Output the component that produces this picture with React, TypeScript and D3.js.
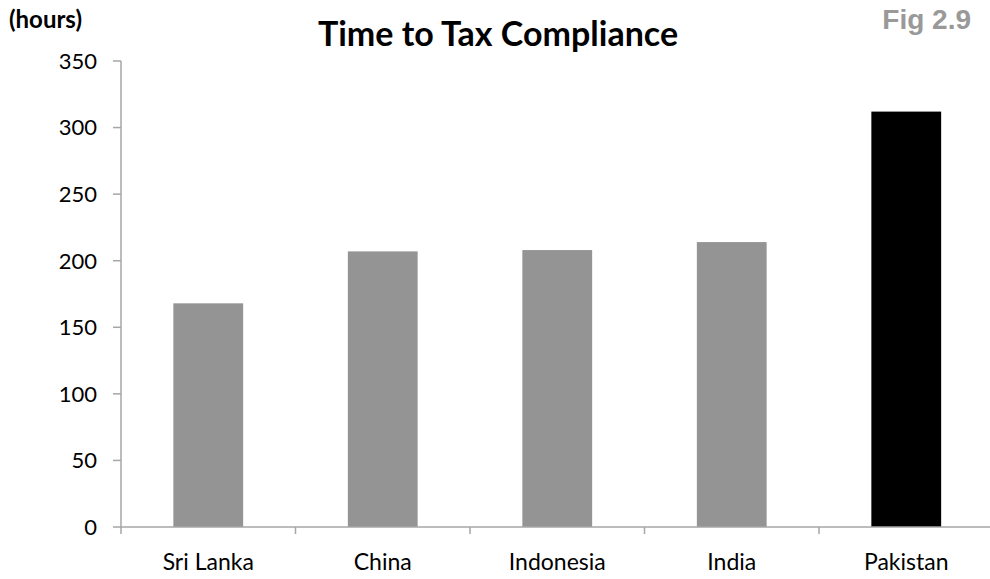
import React from "react";
import * as d3 from "d3";

const categories = ["Sri Lanka", "China", "Indonesia", "India", "Pakistan"];
const values = [168, 207, 208, 214, 312];
const barColors = ["#949494", "#949494", "#949494", "#949494", "#000000"];
const yTicks = [0, 50, 100, 150, 200, 250, 300, 350];

const W = 990;
const H = 579;
const left = 121;
const right = 993.5;
const top = 61;
const bottom = 527;

export default function App() {
  const x = d3.scaleBand<string>().domain(categories).range([left, right]).paddingInner(0.6).paddingOuter(0.3);
  const xb = d3.scaleBand<string>().domain(categories).range([left, right]);
  const y = d3.scaleLinear().domain([0, 350]).range([bottom, top]);
  const font = "Lato, 'Open Sans', sans-serif";
  return (
    <svg width={W} height={H} style={{ position: "absolute", left: 0, top: 0, background: "#fff" }}>
      {categories.map((c, i) => (
        <rect key={c} x={x(c)} y={y(values[i])} width={x.bandwidth()} height={bottom - y(values[i])} fill={barColors[i]} />
      ))}
      <line x1={left} x2={W} y1={bottom} y2={bottom} stroke="#a6a6a6" strokeWidth={1.5} />
      <line x1={left} x2={left} y1={top} y2={bottom} stroke="#a6a6a6" strokeWidth={1.5} />
      {yTicks.map((t) => (
        <g key={t}>
          <line x1={left - 8} x2={left} y1={y(t)} y2={y(t)} stroke="#a6a6a6" strokeWidth={1.5} />
          <text x={97} y={y(t)} dy="0.36em" textAnchor="end" fontFamily={font} fontSize={22} fill="#000">{t}</text>
        </g>
      ))}
      {categories.map((c) => (
        <line key={"t" + c} x1={(xb(c) as number)} x2={(xb(c) as number)} y1={bottom} y2={bottom + 7} stroke="#a6a6a6" strokeWidth={1.5} />
      ))}
      {categories.map((c) => (
        <text key={"l" + c} x={(x(c) as number) + x.bandwidth() / 2} y={570} textAnchor="middle" fontFamily={font} fontSize={23} fill="#000">{c}</text>
      ))}
      <text x={9} y={28} fontFamily={font} fontWeight="bold" fontSize={24} fill="#000">(hours)</text>
      <text x={498} y={46} textAnchor="middle" fontFamily={font} fontWeight="bold" fontSize={34} fill="#000">Time to Tax Compliance</text>
      <text x={971} y={29} textAnchor="end" fontFamily="'Liberation Sans', Arial, sans-serif" fontWeight="bold" fontSize={28} fill="#999999">Fig 2.9</text>
    </svg>
  );
}
